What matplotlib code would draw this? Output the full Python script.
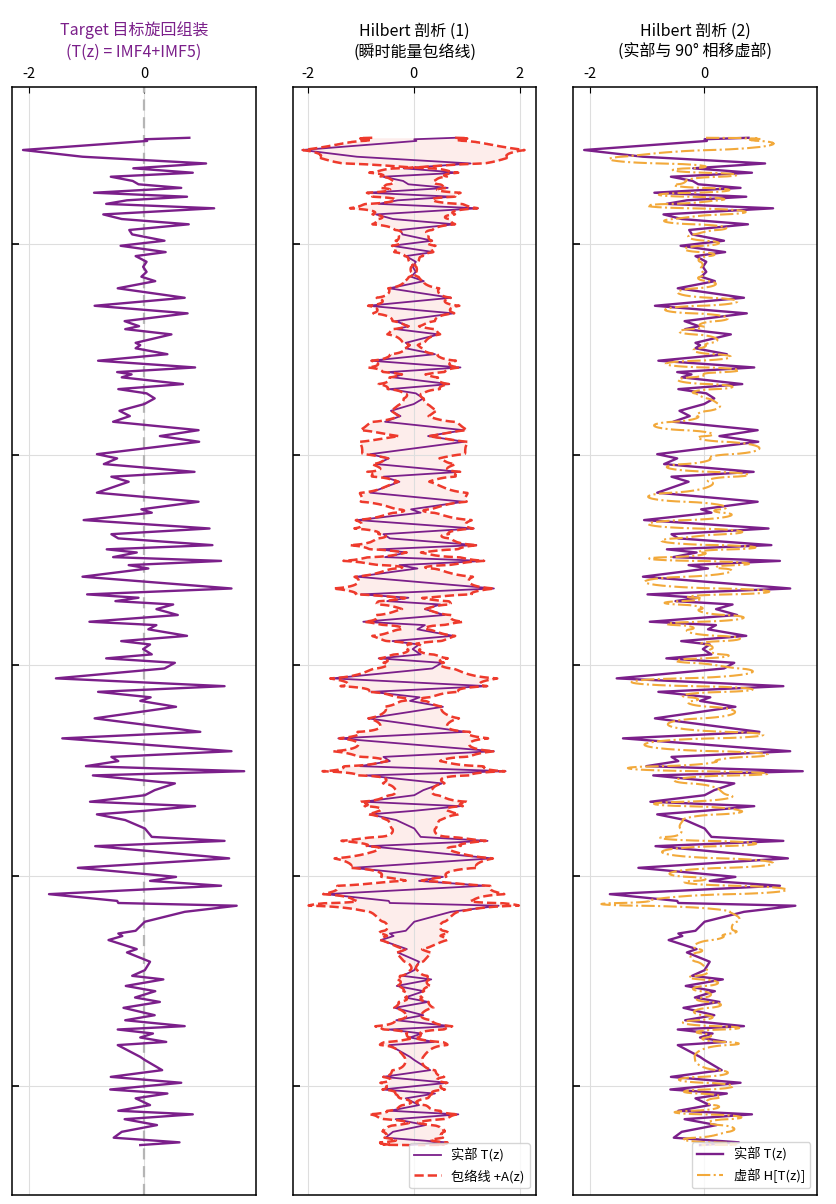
import numpy as np
import matplotlib
matplotlib.use("Agg")
import matplotlib.pyplot as plt
from matplotlib.ticker import MultipleLocator

plt.rcParams['font.family'] = ['Noto Sans CJK SC', 'DejaVu Sans']
plt.rcParams['axes.unicode_minus'] = False

# target cycle T(z) (depth, value at turning points)
depth = np.array([
    49.5, 50.2, 51.0, 55.3, 58.5, 61.7, 64.0, 66.1, 68.0, 70.0, 71.6, 73.3,
    75.6, 77.5, 79.2, 80.9, 83.0, 85.9, 88.1, 90.6, 93.3, 95.4, 98.4, 100.8,
    103.8, 105.7, 108.4, 110.8, 113.2, 115.5, 117.6, 121.0, 125.5, 129.3, 132.9, 136.6,
    139.0, 140.4, 142.9, 146.9, 148.0, 149.5, 152.3, 155.4, 158.6, 160.8, 161.9, 163.3,
    166.5, 168.9, 170.9, 173.3, 176.0, 179.2, 181.7, 184.4, 188.4, 191.2, 193.9, 199.8,
    201.8, 204.5, 208.2, 210.5, 212.9, 218.1, 222.4, 226.0, 227.6, 231.1, 235.1, 237.8,
    239.8, 243.0, 245.0, 246.5, 248.7, 250.5, 252.5, 254.1, 258.0, 263.6, 266.4, 268.0,
    269.6, 271.2, 273.4, 276.2, 279.4, 281.0, 283.0, 286.1, 288.6, 290.2, 292.4, 294.9,
    296.8, 298.9, 301.6, 306.3, 310.0, 312.7, 315.3, 317.0, 319.8, 325.3, 331.7, 334.8,
    340.9, 343.6, 345.6, 348.0, 350.4, 352.4, 356.2, 359.4, 361.8, 364.9, 367.0, 369.2,
    370.9, 373.6, 377.6, 381.6, 383.5, 386.0, 391.8, 396.3, 400.6, 402.5, 404.8, 408.8,
    412.0, 413.0, 414.3, 417.2, 421.9, 426.2, 427.5, 428.7, 430.6, 434.9, 436.5, 440.9,
    444.9, 447.6, 449.3, 452.4, 454.9, 457.9, 460.0, 462.8, 466.3, 468.7, 471.5, 473.1,
    475.0, 476.9, 479.0, 480.5, 486.1, 487.6, 492.4, 495.6, 498.4, 501.6, 503.5, 505.8,
    509.0, 511.7, 513.4, 515.7, 518.5, 521.7, 524.5, 526.7, 528.0,
])
t_real = np.array([
    0.78, 0.01, 0.05, -2.10, -1.07, 1.07, -0.19, 0.84, -0.58, -0.20, -0.10, 0.64,
    -0.87, 0.74, -0.30, -0.66, 1.21, -0.71, -0.39, 0.77, -0.26, -0.21, 0.35, -0.41,
    0.37, -0.15, 0.04, -0.02, 0.04, -0.05, 0.19, -0.46, 0.70, -0.86, 0.75, -0.34,
    -0.09, -0.33, 0.47, -0.15, -0.07, -0.15, 0.40, -0.80, 0.88, -0.47, -0.22, -0.39,
    0.67, -0.45, 0.04, 0.18, 0.00, -0.43, -0.25, -0.54, 0.94, 0.27, 0.95, -0.82,
    -0.47, -0.70, 0.87, -0.57, -0.27, -0.82, 0.94, -0.05, 0.13, -1.05, 1.13, -0.57,
    -0.45, 1.18, -0.65, -0.13, -0.54, 1.33, -0.27, 0.07, -1.07, 1.51, -0.99, -0.10,
    -0.50, 0.50, 0.21, 0.58, -0.95, 0.21, 0.07, 0.74, -0.40, 0.10, -0.02, 0.13,
    -0.66, 0.53, 0.35, -1.53, 1.39, -0.80, 0.11, -0.07, 0.55, -0.86, 0.97, -1.42,
    1.51, -0.57, -0.45, -1.01, 1.73, -0.89, 0.53, 0.18, 0.01, -0.94, 0.88, 0.01,
    -0.82, -0.33, 0.01, 0.13, 1.39, -0.85, 1.47, -1.15, 0.55, 0.10, 1.33, -1.65,
    -0.47, -0.45, 1.60, 0.70, 0.01, -0.15, -0.45, -0.38, -0.62, -0.13, -0.30, 0.10,
    0.01, -0.21, 0.33, -0.32, 0.19, -0.16, 0.27, -0.36, 0.18, -0.33, 0.70, -0.46,
    0.15, -0.07, 0.38, -0.46, -0.07, 0.01, 0.31, -0.58, 0.64, -0.59, 0.40, -0.15,
    0.10, -0.45, 0.84, -0.34, 0.22, -0.39, -0.53, 0.61, -0.07,
])

titles = [
    "Target 目标旋回组装\n(T(z) = IMF4+IMF5)",
    "Hilbert 剖析 (1)\n(瞬时能量包络线)",
    "Hilbert 剖析 (2)\n(实部与 90° 相移虚部)",
]

purple = '#7b1f8a'
red = '#ee3a2c'
orange = '#f2a93b'

# analytic signal of T(z) -> imaginary part and envelope
zz = np.linspace(depth.min(), depth.max(), 4096)
tz = np.interp(zz, depth, t_real)
n = zz.size
spec = np.fft.fft(tz)
w = np.zeros(n)
w[0] = 1
w[1:n // 2] = 2
w[n // 2] = 1
analytic = np.fft.ifft(spec * w)
t_imag = analytic.imag
env = np.abs(analytic)

fig, axes = plt.subplots(1, 3, figsize=(8.36, 12.04), dpi=100, sharey=True)
plt.subplots_adjust(left=0.0144, right=0.9773, top=0.9277, bottom=0.0075, wspace=0.1516)

ax1, ax2, ax3 = axes

title_kw = dict(fontsize=11.5, pad=8, linespacing=1.3)

ax1.axvline(0, color='#b5b5b5', ls=(0, (5, 3)), lw=1.6, zorder=1.8)
ax1.plot(t_real, depth, color=purple, lw=1.7)
ax1.set_title(titles[0], color=purple, **title_kw)
ax1.set_xlim(-2.29, 1.93)

ax2.fill_betweenx(zz, -env, env, color=red, alpha=0.09, lw=0)
ax2.plot(t_real, depth, color=purple, lw=1.3, label='实部 T(z)')
ax2.plot(env, zz, color=red, ls='--', lw=1.8, label='包络线 +A(z)')
ax2.plot(-env, zz, color=red, ls='--', lw=1.8)
ax2.set_title(titles[1], **title_kw)
ax2.set_xlim(-2.28, 2.31)
ax2.legend(loc='lower right', fontsize=9.5)

ax3.plot(t_real, depth, color=purple, lw=1.7, label='实部 T(z)')
ax3.plot(t_imag, zz, color=orange, ls='-.', lw=1.5, label='虚部 H[T(z)]')
ax3.set_title(titles[2], **title_kw)
ax3.set_xlim(-2.29, 1.98)
ax3.legend(loc='lower right', fontsize=9.5)

ax1.set_ylim(551.7, 25.4)
for ax in axes:
    ax.xaxis.tick_top()
    ax.xaxis.set_major_locator(MultipleLocator(2))
    ax.yaxis.set_major_locator(MultipleLocator(100))
    ax.tick_params(axis='x', direction='in', length=4, labelsize=10.5, pad=4)
    ax.tick_params(axis='y', direction='in', length=5, width=1.2, labelleft=False)
    ax.grid(True, color='#dedede', lw=0.8)
    for s in ax.spines.values():
        s.set_linewidth(1.1)

plt.savefig('out.png', dpi=100)
